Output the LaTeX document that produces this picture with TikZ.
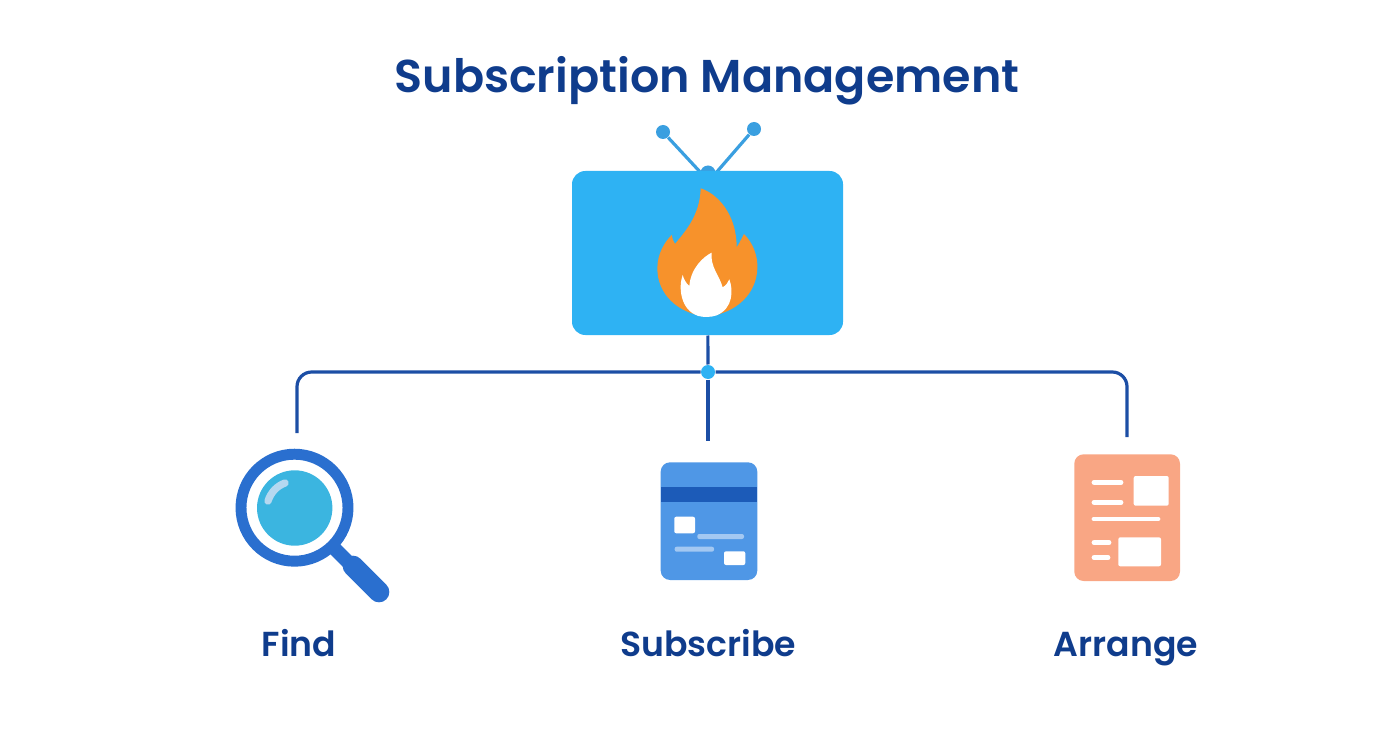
\documentclass[tikz,border=0pt]{standalone}
\usepackage{fontspec}
\setmainfont{Poppins}[BoldFont={Poppins SemiBold}]
\definecolor{navytext}{HTML}{0F3C8C}
\definecolor{linkblue}{HTML}{1C4EA5}
\definecolor{tvblue}{HTML}{2EB2F3}
\definecolor{antennablue}{HTML}{3A9FE0}
\definecolor{flameorange}{HTML}{F7922B}
\definecolor{ringblue}{HTML}{2A6FCF}
\definecolor{lensblue}{HTML}{3BB5E0}
\definecolor{glassshine}{HTML}{B5D8F0}
\definecolor{cardblue}{HTML}{4F97E6}
\definecolor{stripeblue}{HTML}{1C5BB8}
\definecolor{cardbar}{HTML}{A3C8F2}
\definecolor{sheetorange}{HTML}{F9A684}
\tikzset{every picture/.style={line width=0.75pt}}
\tikzset{
  titletext/.style={text=navytext,font=\bfseries\fontsize{34.5}{40}\selectfont,inner sep=0pt,anchor=base},
  labeltext/.style={text=navytext,font=\bfseries\fontsize{26}{30}\selectfont,inner sep=0pt,anchor=base},
  tvbox/.style={fill=tvblue,rounded corners=10pt,minimum width=203.25pt,minimum height=123pt,inner sep=0pt},
  hubdot/.style={circle,fill=tvblue,minimum size=10.5pt,inner sep=0pt},
  knob/.style={circle,fill=antennablue,minimum size=10.5pt,inner sep=0pt},
  link/.style={draw=linkblue,line width=2.4pt},
  antenna/.style={draw=antennablue,line width=2.4pt},
  whitebox/.style={fill=white,rounded corners=1.5pt},
  whitebar/.style={draw=white,line width=3.6pt,line cap=round}
}

\begin{document}
\begin{tikzpicture}[x=0.75pt,y=0.75pt,yscale=-1,xscale=1]
	\useasboundingbox (0,0) rectangle (1392,752);

	% Text Node
	\node[titletext] (title) at (707,92.5) {Subscription Management};

	%Straight Lines: antenna
	\coordinate (antennaleft) at (702,174);
	\coordinate (antennaright) at (715,174);
	\node[knob] (knobleft) at (663,132) {};
	\node[knob] (knobright) at (754,129) {};
	\draw[antenna] (knobleft) -- (antennaleft);
	\draw[antenna] (knobright) -- (antennaright);
	\fill[antennablue] (708,173) circle (7.5);

	%Shape: Rounded Rectangle
	\node[tvbox] (tv) at (707.5,253) {};

	%Shape: Flame
	\begin{scope}[shift={(560,110)},scale=1/3]
		\fill[flameorange] (422,235) .. controls (470,250) and (530,310) .. (530,412)
			.. controls (538,400) and (545,385) .. (552,372)
			.. controls (580,400) and (594,440) .. (592,475)
			.. controls (590,550) and (530,610) .. (440,620)
			.. controls (350,610) and (292,550) .. (292,475)
			.. controls (292,430) and (315,395) .. (335,375)
			.. controls (337,385) and (340,395) .. (345,402)
			.. controls (370,370) and (420,320) .. (422,235) -- cycle;
		\fill[white] (455,428) .. controls (430,440) and (392,475) .. (388,528)
			.. controls (378,520) and (372,508) .. (368,495)
			.. controls (355,530) and (360,600) .. (415,618)
			.. controls (430,622) and (455,622) .. (470,616)
			.. controls (520,595) and (520,540) .. (508,508)
			.. controls (504,518) and (498,526) .. (488,532)
			.. controls (480,500) and (450,470) .. (455,428) -- cycle;
	\end{scope}

	%Connectors
	\node[hubdot] (hub) at (708,372) {};
	\coordinate (findend) at (297,433);
	\coordinate (subscribeend) at (708,441);
	\coordinate (arrangeend) at (1127,437);
	\draw[link] (tv) -- (hub);
	\draw[link] (hub) -- (subscribeend);
	\draw[link,rounded corners=11pt] (findend) |- (hub);
	\draw[link,rounded corners=11pt] (arrangeend) |- (hub);

	%Shape: Magnifier
	\draw[ringblue,line width=8.2pt] (294.5,507.7) circle (53.5);
	\fill[lensblue] (294.7,508) circle (37.7);
	\draw[glassshine,line width=5.5pt,line cap=round] (268,501) .. controls (271,492) and (277,486) .. (285,483);
	\draw[ringblue,line width=10.5pt] (333,547) -- (352,566);
	\draw[ringblue,line width=15.5pt,line cap=round] (353,566) -- (379,592);

	%Shape: Card
	\fill[cardblue,rounded corners=7pt] (660.7,462.3) rectangle (757.3,580);
	\fill[stripeblue] (660.7,486.7) rectangle (757.3,501.7);
	\fill[whitebox] (674.3,516.7) rectangle (695,533.3);
	\fill[cardbar,rounded corners=1.5pt] (697.3,534) rectangle (744,539);
	\fill[cardbar,rounded corners=1.5pt] (674.7,546.7) rectangle (714,551.7);
	\fill[whitebox] (724,551.3) rectangle (745.3,565);

	%Shape: Sheet
	\fill[sheetorange,rounded corners=7pt] (1074.3,454.3) rectangle (1180,581);
	\fill[whitebox] (1133.7,476) rectangle (1168.7,505.7);
	\fill[whitebox] (1118.3,537.3) rectangle (1161,566.3);
	\draw[whitebar] (1094,482.3) -- (1121,482.3);
	\draw[whitebar] (1094,502.3) -- (1121,502.3);
	\draw[whitebar] (1094,519) -- (1158,519);
	\draw[whitebar] (1094,542.7) -- (1109,542.7);
	\draw[whitebar] (1094,557.7) -- (1108,557.7);

	% Text Node
	\node[labeltext] (findlabel) at (299,656) {Find};
	% Text Node
	\node[labeltext] (subscribelabel) at (708,656) {Subscribe};
	% Text Node
	\node[labeltext] (arrangelabel) at (1126,656) {Arrange};

\end{tikzpicture}
\end{document}
